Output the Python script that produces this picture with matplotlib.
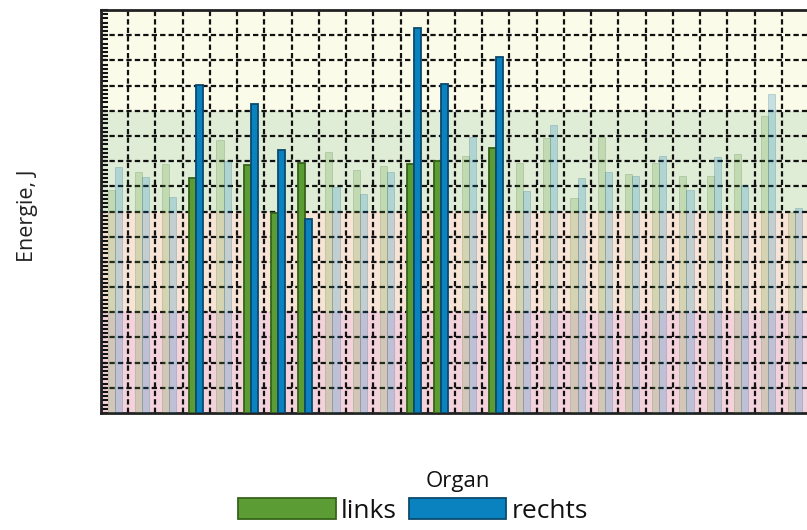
import matplotlib
matplotlib.use("Agg")
import matplotlib.pyplot as plt
from matplotlib.patches import Patch
from matplotlib.ticker import MultipleLocator, AutoMinorLocator
import numpy as np

plt.rcParams["font.family"] = ["Open Sans", "DejaVu Sans"]

# Energie per Organ, links / rechts (J)
links = [8.85, 9.55, 9.88, 9.32, 10.84, 9.86, 7.95, 9.94, 10.35, 9.63, 9.80, 9.87, 10.02,
         10.20, 10.51, 9.94, 10.93, 8.52, 10.97, 9.47, 9.94, 9.40, 9.40, 10.28, 11.79, 7.99]
rechts = [9.78, 9.38, 8.59, 13.02, 10.02, 12.25, 10.43, 7.71, 8.98, 8.68, 9.55, 15.27, 13.05,
          10.97, 14.15, 8.83, 11.43, 9.32, 9.55, 9.40, 10.19, 8.85, 10.18, 9.05, 12.65, 8.14]
highlighted = [3, 5, 6, 7, 11, 12, 14]

# background bands (lower, upper, colour)
bands = [(0, 4, "#f3d2dc"), (4, 8, "#f8e4d6"), (8, 12, "#dfecd6"), (12, 16, "#fbfbea")]

green, green_edge = "#5c9c34", "#37641a"
blue, blue_edge = "#0a82c0", "#0b4a6e"

fig = plt.figure(figsize=(8.07, 5.30), dpi=100)
ax = fig.add_axes([101 / 807, 117 / 530, 708 / 807, 403 / 530])

for lo, hi, col in bands:
    ax.axhspan(lo, hi, color=col, zorder=0, lw=0)

x = np.arange(len(links))
w = 0.26
for i in x:
    on = i in highlighted
    a = 1.0 if on else 0.22
    lw = 1.3 if on else 0.6
    ax.bar(i - w / 2, links[i], w, color=green, edgecolor=green_edge, linewidth=lw, alpha=a, zorder=3)
    ax.bar(i + w / 2, rechts[i], w, color=blue, edgecolor=blue_edge, linewidth=lw, alpha=a, zorder=3)

ax.set_xlim(-0.5, len(links) - 0.5)
ax.set_ylim(0, 16)

# grid on category boundaries and every unit
for xb in np.arange(-0.5, len(links), 1.0):
    ax.axvline(xb, color="#111111", lw=1.6, ls=(0, (2.4, 1.4)), zorder=1)
for yb in range(1, 16):
    ax.axhline(yb, color="#111111", lw=1.6, ls=(0, (2.4, 1.4)), zorder=1)

ax.yaxis.set_major_locator(MultipleLocator(1))
ax.yaxis.set_minor_locator(AutoMinorLocator(6))
ax.tick_params(axis="y", which="both", direction="in", length=5, width=1.5,
               color="#111111", labelleft=False)
ax.tick_params(axis="x", which="both", bottom=False, labelbottom=False)

for side in ["left", "bottom", "top"]:
    ax.spines[side].set_linewidth(2)
    ax.spines[side].set_color("#222222")
ax.spines["right"].set_visible(False)

fig.text(28 / 807, 1 - 216 / 530, "Energie, J", rotation=90, ha="center", va="center",
         fontsize=15.5, color="#222222")

fig.text(458 / 807, 1 - 482 / 530, "Organ", ha="center", va="center", fontsize=16, color="#111111")
handles = [Patch(facecolor=green, edgecolor=green_edge, linewidth=1.3, label="links"),
           Patch(facecolor=blue, edgecolor=blue_edge, linewidth=1.3, label="rechts")]
fig.legend(handles=handles, loc="center", bbox_to_anchor=(413 / 807, 1 - 511 / 530), ncol=2,
           frameon=False, fontsize=19, handlelength=3.7, handleheight=0.87,
           handletextpad=0.2, columnspacing=0.45, borderpad=0, labelcolor="#111111")

fig.savefig("out.png", dpi=100)
